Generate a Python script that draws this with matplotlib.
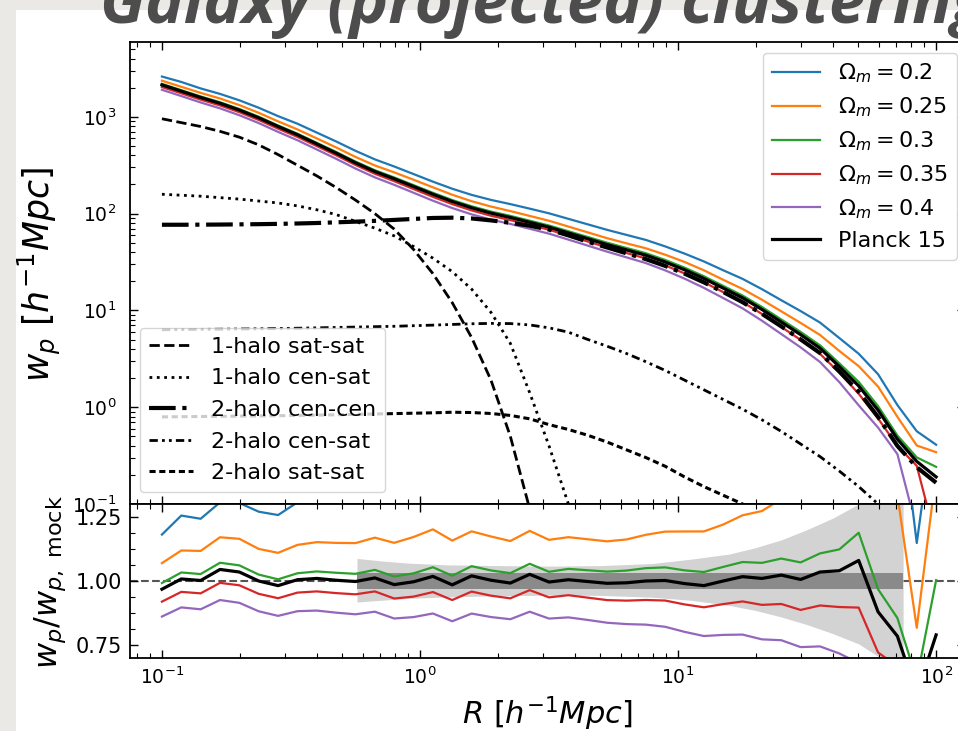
import numpy as np
import matplotlib
matplotlib.use("Agg")
import matplotlib.pyplot as plt
from matplotlib.patches import Rectangle
from matplotlib.ticker import AutoMinorLocator

# projected separation bins, h^-1 Mpc
R = np.logspace(-1, 2, 41)

# Planck 15 model, log10 w_p
log_wp_planck = np.array([
    3.33, 3.265, 3.20, 3.14, 3.07, 2.99, 2.90, 2.815, 2.72, 2.625,
    2.525, 2.435, 2.36, 2.28, 2.20, 2.125, 2.06, 2.005, 1.96, 1.91,
    1.86, 1.80, 1.74, 1.68, 1.625, 1.57, 1.50, 1.42, 1.33, 1.23,
    1.13, 1.01, 0.88, 0.75, 0.61, 0.42, 0.22, -0.03, -0.33, -0.56, -0.72])

# Planck 15 model divided by the mock measurement
ratio_planck = np.array([
    0.968, 1.008, 1.002, 1.045, 1.035, 1.0, 0.982, 1.005, 1.01, 1.003,
    0.998, 1.012, 0.986, 0.997, 1.018, 0.985, 1.02, 1.003, 0.992, 1.026,
    0.996, 1.005, 0.998, 0.991, 0.993, 1.0, 1.002, 0.99, 0.982, 1.0,
    1.017, 1.01, 1.023, 1.006, 1.035, 1.04, 1.08, 0.88, 0.785, 0.56, 0.79])

# each cosmology relative to the Planck 15 model
rel_om020 = np.array([
    1.22, 1.245, 1.24, 1.25, 1.26, 1.27, 1.28, 1.30, 1.31, 1.32,
    1.33, 1.335, 1.34, 1.345, 1.35, 1.355, 1.36, 1.37, 1.375, 1.385,
    1.39, 1.40, 1.41, 1.42, 1.43, 1.44, 1.45, 1.47, 1.50, 1.53,
    1.57, 1.62, 1.68, 1.75, 1.84, 1.97, 2.15, 2.35, 2.25, 2.05, 2.15])
rel_om025 = np.array([
    1.105, 1.11, 1.115, 1.12, 1.125, 1.125, 1.13, 1.135, 1.14, 1.145,
    1.15, 1.155, 1.165, 1.175, 1.18, 1.175, 1.17, 1.17, 1.165, 1.165,
    1.165, 1.165, 1.165, 1.165, 1.17, 1.18, 1.19, 1.205, 1.215, 1.22,
    1.235, 1.26, 1.29, 1.32, 1.37, 1.45, 1.6, 1.75, 1.7, 1.46, 1.8])
rel_om030 = np.array([
    1.025, 1.025, 1.025, 1.025, 1.025, 1.025, 1.025, 1.025, 1.027, 1.029,
    1.03, 1.031, 1.032, 1.033, 1.035, 1.036, 1.037, 1.038, 1.039, 1.04,
    1.04, 1.042, 1.044, 1.046, 1.048, 1.05, 1.051, 1.052, 1.054, 1.055,
    1.056, 1.06, 1.063, 1.066, 1.07, 1.08, 1.1, 1.1, 1.09, 1.1, 1.27])
rel_om035 = np.array([
    0.95, 0.95, 0.95, 0.95, 0.95, 0.95, 0.95, 0.95, 0.95, 0.95,
    0.95, 0.948, 0.945, 0.942, 0.94, 0.94, 0.94, 0.94, 0.94, 0.94,
    0.94, 0.94, 0.937, 0.934, 0.93, 0.926, 0.922, 0.918, 0.914, 0.91,
    0.905, 0.898, 0.89, 0.882, 0.874, 0.864, 0.83, 0.82, 0.85, 0.9, 0.22])
rel_om040 = np.array([
    0.89, 0.89, 0.888, 0.886, 0.884, 0.882, 0.88, 0.878, 0.876, 0.874,
    0.872, 0.87, 0.866, 0.862, 0.858, 0.856, 0.856, 0.857, 0.858, 0.858,
    0.857, 0.854, 0.85, 0.845, 0.838, 0.83, 0.82, 0.81, 0.80, 0.79,
    0.778, 0.765, 0.752, 0.738, 0.72, 0.69, 0.63, 0.66, 0.70, 0.20, 0.15])

om_labels = [r'$\Omega_m = 0.2$', r'$\Omega_m = 0.25$', r'$\Omega_m = 0.3$',
             r'$\Omega_m = 0.35$', r'$\Omega_m = 0.4$']
om_colors = ['tab:blue', 'tab:orange', 'tab:green', 'tab:red', 'tab:purple']

# halo-model terms, log10 w_p (each runs from the first bin until it leaves the plot)
log_1h_ss = np.array([
    2.98, 2.94, 2.90, 2.85, 2.79, 2.71, 2.61, 2.50, 2.39, 2.27,
    2.14, 2.00, 1.84, 1.63, 1.38, 1.08, 0.72, 0.28, -0.30, -1.05, -1.9])
log_1h_cs = np.array([
    2.20, 2.19, 2.18, 2.165, 2.15, 2.13, 2.11, 2.08, 2.04, 1.99,
    1.92, 1.85, 1.77, 1.66, 1.54, 1.40, 1.22, 0.98, 0.66, 0.15,
    -0.4, -1.0, -1.7])
log_2h_cc = np.array([
    1.885, 1.885, 1.886, 1.887, 1.889, 1.891, 1.894, 1.898, 1.903, 1.91,
    1.917, 1.925, 1.935, 1.945, 1.955, 1.958, 1.95, 1.93, 1.905, 1.875,
    1.835, 1.775, 1.71, 1.65, 1.59, 1.53, 1.46, 1.38, 1.29, 1.19,
    1.085, 0.965, 0.835, 0.70, 0.56, 0.37, 0.16, -0.1, -0.4, -0.62, -0.78])
log_2h_cs = np.array([
    0.80, 0.802, 0.804, 0.806, 0.808, 0.81, 0.813, 0.816, 0.82, 0.824,
    0.828, 0.832, 0.836, 0.842, 0.848, 0.855, 0.862, 0.866, 0.864, 0.85,
    0.82, 0.775, 0.70, 0.63, 0.555, 0.47, 0.38, 0.28, 0.18, 0.08,
    -0.02, -0.13, -0.25, -0.38, -0.51, -0.66, -0.82, -1.0, -1.18, -1.38, -1.58])
log_2h_ss = np.array([
    -0.10, -0.098, -0.096, -0.094, -0.092, -0.09, -0.088, -0.085, -0.082, -0.078,
    -0.074, -0.07, -0.066, -0.062, -0.058, -0.052, -0.055, -0.065, -0.085, -0.12,
    -0.18, -0.23, -0.29, -0.36, -0.44, -0.52, -0.61, -0.72, -0.82, -0.91,
    -1.0, -1.1, -1.22])

term_labels = ['1-halo sat-sat', '1-halo cen-sat', '2-halo cen-cen',
               '2-halo cen-sat', '2-halo sat-sat']

# uncertainty bands of the mock
band_R = np.array([0.57, 0.71, 0.89, 1.26, 2.0, 3.16, 5.0, 7.9, 11.2,
                   15.8, 20.0, 25.1, 31.6, 39.8, 50.1, 63.1, 74.5])
band_hi = np.array([1.088, 1.078, 1.07, 1.063, 1.06, 1.058, 1.06, 1.068, 1.085,
                    1.105, 1.13, 1.16, 1.2, 1.245, 1.30, 1.4, 1.45])
band_lo = np.array([0.918, 0.925, 0.932, 0.938, 0.942, 0.945, 0.944, 0.937, 0.925,
                    0.905, 0.885, 0.86, 0.83, 0.795, 0.755, 0.69, 0.65])
inner_R = np.array([0.57, 74.5])
inner_hi = np.array([1.033, 1.033])
inner_lo = np.array([0.967, 0.967])

W, H = 958, 731
fig = plt.figure(figsize=(W / 100, H / 100), dpi=100, facecolor='#ebe9e6')
fig.add_artist(Rectangle((16 / W, 0), 1, 1 - 10 / H, transform=fig.transFigure,
                         facecolor='white', edgecolor='none', zorder=-5))
fig.text(100 / W, 1 - 23 / H, 'Galaxy (projected) clustering', fontsize=47,
         fontweight='bold', fontstyle='italic', family=['Open Sans', 'DejaVu Sans'],
         color='#4d4d4d', ha='left', va='baseline')

left = 130 / W
width = 835 / W
ax1 = fig.add_axes([left, 1 - 504 / H, width, 462 / H])
ax2 = fig.add_axes([left, 1 - 658 / H, width, 154 / H], sharex=ax1)

wp_planck = 10 ** log_wp_planck
rels = [rel_om020, rel_om025, rel_om030, rel_om035, rel_om040]

# --- upper panel: w_p(R)
om_handles = []
for rel, lab, col in zip(rels, om_labels, om_colors):
    h, = ax1.plot(R, wp_planck * rel, color=col, lw=1.6, label=lab)
    om_handles.append(h)
hp, = ax1.plot(R, wp_planck, color='black', lw=2.3, label='Planck 15')
om_handles.append(hp)

term_styles = [dict(ls='--', lw=2.0),
               dict(ls=':', lw=2.0),
               dict(ls='-.', lw=3.0),
               dict(ls=(0, (3, 1.5, 1, 1.5, 1, 1.5)), lw=2.0),
               dict(ls=(0, (2, 1.2)), lw=2.2)]
term_handles = []
for arr, lab, st in zip([log_1h_ss, log_1h_cs, log_2h_cc, log_2h_cs, log_2h_ss],
                        term_labels, term_styles):
    h, = ax1.plot(R[:len(arr)], 10 ** arr, color='black', label=lab, **st)
    term_handles.append(h)

ax1.set_xscale('log')
ax1.set_yscale('log')
ax1.set_xlim(0.0752, 129.4)
ax1.set_ylim(0.1, 5930)
ax1.set_ylabel(r'$w_p\ [h^{-1}Mpc]$', fontsize=25)
ax1.yaxis.set_label_coords(-0.08, 0.497)
ax1.tick_params(labelbottom=False)

leg1 = ax1.legend(handles=om_handles, loc='upper right',
                  bbox_to_anchor=(957 / W, 1 - 53 / H), bbox_transform=fig.transFigure,
                  borderaxespad=0, fontsize=16, labelspacing=0.46, handlelength=2.2)
ax1.add_artist(leg1)
ax1.legend(handles=term_handles, loc='lower left',
           bbox_to_anchor=(140 / W, 1 - 492 / H), bbox_transform=fig.transFigure,
           borderaxespad=0, fontsize=16, labelspacing=0.52)

# --- lower panel: ratio to the mock
ax2.axhline(1.0, color='#555555', ls='--', lw=1.5, zorder=0.5)
ax2.fill_between(band_R, band_lo, band_hi, color='#d3d3d3', lw=0, zorder=1)
ax2.fill_between(inner_R, inner_lo, inner_hi, color='#8a8a8a', lw=0, zorder=1.1)
for rel, col in zip(rels, om_colors):
    ax2.plot(R, ratio_planck * rel, color=col, lw=1.6, zorder=2)
ax2.plot(R, ratio_planck, color='black', lw=2.3, zorder=2.5)
ax2.set_ylim(0.7, 1.3)
ax2.set_yticks([0.75, 1.0, 1.25])
ax2.yaxis.set_minor_locator(AutoMinorLocator(4))
ax2.set_ylabel(r'$w_p/w_{p,\ \rm mock}$', fontsize=23)
ax2.yaxis.set_label_coords(-0.074, 0.49)
ax2.set_xlabel(r'$R\ [h^{-1}Mpc]$', fontsize=22)
ax2.xaxis.set_label_coords(0.5, -0.235)

for ax in (ax1, ax2):
    ax.tick_params(which='both', direction='in', top=True, right=True)
    ax.tick_params(which='major', length=6, width=1.0)
    ax.tick_params(which='minor', length=3.5, width=0.8)
    for sp in ax.spines.values():
        sp.set_linewidth(1.3)
ax1.tick_params(axis='y', labelsize=13.5, pad=10)
ax2.tick_params(axis='y', labelsize=15, pad=6)
ax2.tick_params(axis='x', labelsize=13.5, pad=6)

fig.savefig('out.png', dpi=100, facecolor=fig.get_facecolor())
